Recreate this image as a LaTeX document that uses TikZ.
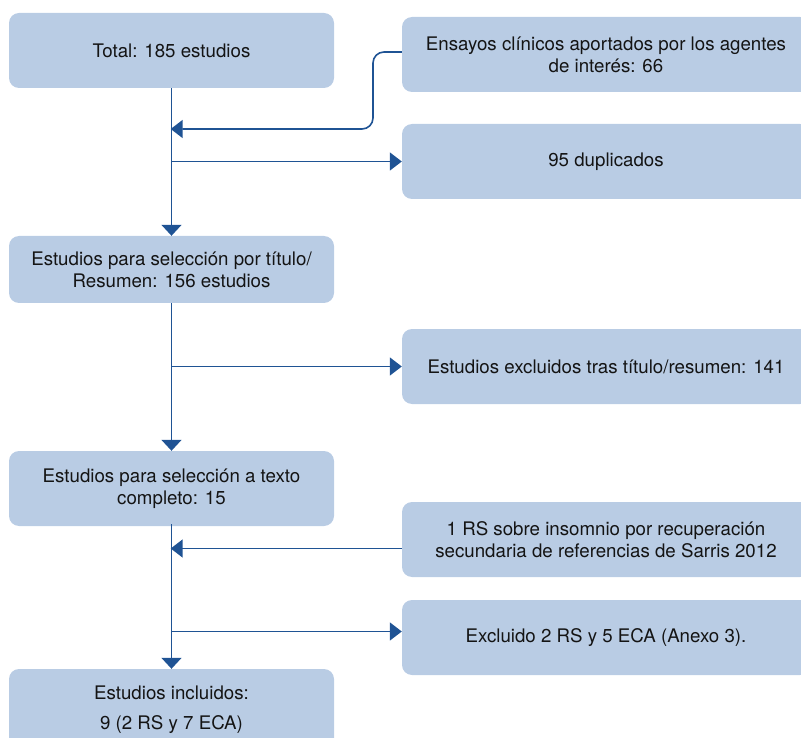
\documentclass[tikz,border=0pt]{standalone}
\usepackage{fontspec}
\setmainfont{TeX Gyre Heros}
\usetikzlibrary{arrows.meta}
\definecolor{boxfill}{HTML}{B9CCE4}
\definecolor{linecol}{HTML}{1F5394}
\definecolor{txtcol}{HTML}{141414}
\begin{document}
\begin{tikzpicture}[x=1pt,y=-1pt,
  box/.style={rectangle, rounded corners=10pt, fill=boxfill, draw=none,
    inner sep=0pt, align=center, text=txtcol,
    font=\fontsize{18.7}{22}\selectfont},
  leftbox/.style={box, minimum width=325pt},
  rightbox/.style={box, minimum width=408pt, minimum height=75pt},
  conn/.style={draw=linecol, line width=1.6pt},
  arr/.style={conn, -{Triangle[length=12pt,width=18pt]}},
  darr/.style={conn, -{Triangle[length=11pt,width=20pt]}}]
\useasboundingbox (0,0) rectangle (801,738);
\clip (0,0) rectangle (801,738);
\node[leftbox, minimum height=75pt] (b1) at (171.5,50.5) {Total: 185 estudios};
\node[leftbox, minimum height=67pt] (b2) at (171.5,269.5) {Estudios para selección por título/\\Resumen: 156 estudios};
\node[leftbox, minimum height=75pt] (b3) at (171.5,488.5) {Estudios para selección a texto\\completo: 15};
\node[leftbox, minimum height=81pt, font=\fontsize{18.7}{30}\selectfont] (b4) at (171.5,709.5) {Estudios incluidos:\\9 (2 RS y 7 ECA)};
\node[rightbox] (r1) at (606,54.5) {Ensayos clínicos aportados por los agentes\\de interés: 66};
\node[rightbox] (r2) at (606,161.5) {95 duplicados};
\node[rightbox] (r3) at (606,366.5) {Estudios excluidos tras título/resumen: 141};
\node[rightbox] (r4) at (606,539.5) {1 RS sobre insomnio por recuperación\\secundaria de referencias de Sarris 2012};
\node[rightbox] (r5) at (606,637.5) {Excluido 2 RS y 5 ECA (Anexo 3).};
% main vertical flow
\draw[darr] (b1.south) -- (b2.north);
\draw[darr] (b2.south) -- (b3.north);
\draw[darr] ([yshift=2pt]b3.south) -- (b4.north);
% feedback from r1
\coordinate (f0) at (r1.west |- 0,52);
\coordinate (f1) at (373,52);
\coordinate (f2) at (373,129);
\coordinate (f3) at (170.7,129);
\draw[arr, rounded corners=11pt] (f0) -- (f1) -- (f2) -- (f3);
% to r2
\coordinate (j2) at (171.5,161.5);
\draw[arr] (j2) -- (r2.west);
% to r3
\coordinate (j3) at (171.5,366.5);
\draw[arr] (j3) -- (r3.west);
% from r4
\coordinate (g4a) at (r4.west |- 0,548.5);
\coordinate (g4b) at (170.7,548.5);
\draw[arr] (g4a) -- (g4b);
% to r5
\coordinate (j5) at (171.5,631.5);
\coordinate (e5) at (r5.west |- 0,631.5);
\draw[arr] (j5) -- (e5);
\end{tikzpicture}
\end{document}
